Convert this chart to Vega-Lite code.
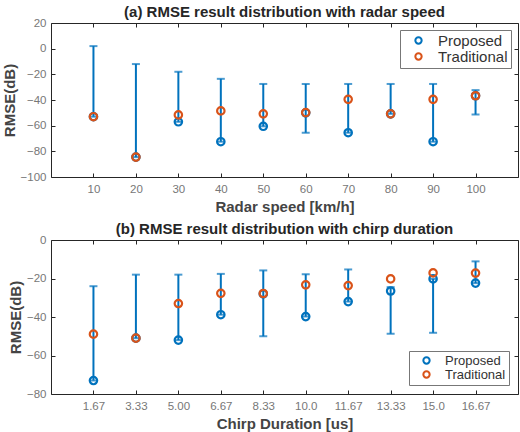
{
  "$schema": "https://vega.github.io/schema/vega-lite/v6.json",
  "padding": {"left": 1, "top": 4, "right": 1, "bottom": 0},
  "spacing": 6,
  "datasets": {
    "speed": [
      {"speed": 10, "series": "Proposed", "rmse": -53, "lo": -53, "hi": 2},
      {"speed": 20, "series": "Proposed", "rmse": -84.5, "lo": -84.5, "hi": -12},
      {"speed": 30, "series": "Proposed", "rmse": -57, "lo": -57, "hi": -18},
      {"speed": 40, "series": "Proposed", "rmse": -72.5, "lo": -72.5, "hi": -23.5},
      {"speed": 50, "series": "Proposed", "rmse": -60.5, "lo": -60.5, "hi": -27.5},
      {"speed": 60, "series": "Proposed", "rmse": -50, "lo": -65.5, "hi": -27.5},
      {"speed": 70, "series": "Proposed", "rmse": -65.5, "lo": -65.5, "hi": -27.5},
      {"speed": 80, "series": "Proposed", "rmse": -50.8, "lo": -50.8, "hi": -27.5},
      {"speed": 90, "series": "Proposed", "rmse": -72.5, "lo": -72.5, "hi": -27.5},
      {"speed": 100, "series": "Proposed", "rmse": -36.7, "lo": -51.3, "hi": -32.3},
      {"speed": 10, "series": "Traditional", "rmse": -53},
      {"speed": 20, "series": "Traditional", "rmse": -84.5},
      {"speed": 30, "series": "Traditional", "rmse": -51.6},
      {"speed": 40, "series": "Traditional", "rmse": -48.5},
      {"speed": 50, "series": "Traditional", "rmse": -50.8},
      {"speed": 60, "series": "Traditional", "rmse": -49.8},
      {"speed": 70, "series": "Traditional", "rmse": -39.5},
      {"speed": 80, "series": "Traditional", "rmse": -50.8},
      {"speed": 90, "series": "Traditional", "rmse": -39.5},
      {"speed": 100, "series": "Traditional", "rmse": -36.7}
    ],
    "chirp": [
      {"dur": "1.67", "series": "Proposed", "rmse": -73, "lo": -73, "hi": -24},
      {"dur": "3.33", "series": "Proposed", "rmse": -51, "lo": -51, "hi": -18},
      {"dur": "5.00", "series": "Proposed", "rmse": -52, "lo": -52, "hi": -18},
      {"dur": "6.67", "series": "Proposed", "rmse": -38.8, "lo": -38.8, "hi": -17.6},
      {"dur": "8.33", "series": "Proposed", "rmse": -28, "lo": -50, "hi": -15.8},
      {"dur": "10.0", "series": "Proposed", "rmse": -39.8, "lo": -39.8, "hi": -17.8},
      {"dur": "11.67", "series": "Proposed", "rmse": -32, "lo": -32, "hi": -15.3},
      {"dur": "13.33", "series": "Proposed", "rmse": -26.5, "lo": -48.7, "hi": -24.5},
      {"dur": "15.0", "series": "Proposed", "rmse": -20.2, "lo": -48.2, "hi": -20.2},
      {"dur": "16.67", "series": "Proposed", "rmse": -22.4, "lo": -22.4, "hi": -11.1},
      {"dur": "1.67", "series": "Traditional", "rmse": -48.9},
      {"dur": "3.33", "series": "Traditional", "rmse": -51},
      {"dur": "5.00", "series": "Traditional", "rmse": -33},
      {"dur": "6.67", "series": "Traditional", "rmse": -27.7},
      {"dur": "8.33", "series": "Traditional", "rmse": -27.8},
      {"dur": "10.0", "series": "Traditional", "rmse": -23.3},
      {"dur": "11.67", "series": "Traditional", "rmse": -23.7},
      {"dur": "13.33", "series": "Traditional", "rmse": -20.2},
      {"dur": "15.0", "series": "Traditional", "rmse": -17.1},
      {"dur": "16.67", "series": "Traditional", "rmse": -17.2}
    ]
  },
  "vconcat": [
    {
      "title": "(a) RMSE result distribution with radar speed",
      "width": 467,
      "height": 154,
      "data": {"name": "speed"},
      "layer": [
        {
          "transform": [{"filter": "datum.series === 'Proposed'"}],
          "mark": {"type": "rule", "color": "#0072BD", "strokeWidth": 2},
          "encoding": {
            "x": {"field": "speed", "type": "quantitative", "scale": {"domain": [0, 110], "nice": false}, "axis": {"values": [10, 20, 30, 40, 50, 60, 70, 80, 90, 100], "title": "Radar speed [km/h]"}},
            "y": {"field": "lo", "type": "quantitative", "scale": {"domain": [-100, 20], "nice": false}, "axis": {"values": [-100, -80, -60, -40, -20, 0, 20], "title": "RMSE(dB)"}},
            "y2": {"field": "hi"}
          }
        },
        {
          "transform": [{"filter": "datum.series === 'Proposed'"}],
          "mark": {"type": "tick", "orient": "horizontal", "color": "#0072BD", "thickness": 2, "size": 8},
          "encoding": {
            "x": {"field": "speed", "type": "quantitative", "axis": null},
            "y": {"field": "hi", "type": "quantitative", "axis": null}
          }
        },
        {
          "transform": [{"filter": "datum.series === 'Proposed'"}],
          "mark": {"type": "tick", "orient": "horizontal", "color": "#0072BD", "thickness": 2, "size": 8},
          "encoding": {
            "x": {"field": "speed", "type": "quantitative", "axis": null},
            "y": {"field": "lo", "type": "quantitative", "axis": null}
          }
        },
        {
          "mark": {"type": "point", "filled": false, "strokeWidth": 2.2, "size": 55, "opacity": 1},
          "encoding": {
            "x": {"field": "speed", "type": "quantitative", "axis": null},
            "y": {"field": "rmse", "type": "quantitative", "axis": null},
            "color": {"field": "series", "type": "nominal", "scale": {"domain": ["Proposed", "Traditional"], "range": ["#0072BD", "#D95319"]}, "legend": {"orient": "top-right", "offset": 7, "labelFontSize": 15, "encode": {"symbols": {"update": {"shape": {"signal": "datum.value === 'Proposed' ? 'M-0.5,0A0.5,0.5,0,1,1,0.5,0A0.5,0.5,0,1,1,-0.5,0M0,-1L0,1M-0.35,-1L0.35,-1M-0.35,1L0.35,1' : 'circle'"}}}}}}
          }
        },
        {
          "mark": {"type": "point", "opacity": 0},
          "encoding": {
            "x": {"field": "speed", "type": "quantitative", "axis": {"orient": "top", "labels": false, "labelPadding": 0, "title": null, "values": [10, 20, 30, 40, 50, 60, 70, 80, 90, 100]}},
            "y": {"field": "rmse", "type": "quantitative", "axis": {"orient": "right", "labels": false, "labelPadding": 0, "title": null, "values": [-100, -80, -60, -40, -20, 0, 20]}}
          }
        }
      ],
      "resolve": {"axis": {"x": "independent", "y": "independent"}}
    },
    {
      "title": "(b) RMSE result distribution with chirp duration",
      "width": 467,
      "height": 154,
      "data": {"name": "chirp"},
      "layer": [
        {
          "transform": [{"filter": "datum.series === 'Proposed'"}],
          "mark": {"type": "rule", "color": "#0072BD", "strokeWidth": 2},
          "encoding": {
            "x": {"field": "dur", "type": "ordinal", "sort": null, "scale": {"type": "point", "padding": 1}, "axis": {"title": "Chirp Duration [us]", "labelAngle": 0}},
            "y": {"field": "lo", "type": "quantitative", "scale": {"domain": [-80, 0], "nice": false}, "axis": {"values": [-80, -60, -40, -20, 0], "title": "RMSE(dB)"}},
            "y2": {"field": "hi"}
          }
        },
        {
          "transform": [{"filter": "datum.series === 'Proposed'"}],
          "mark": {"type": "tick", "orient": "horizontal", "color": "#0072BD", "thickness": 2, "size": 8},
          "encoding": {
            "x": {"field": "dur", "type": "ordinal", "sort": null, "axis": null},
            "y": {"field": "hi", "type": "quantitative", "axis": null}
          }
        },
        {
          "transform": [{"filter": "datum.series === 'Proposed'"}],
          "mark": {"type": "tick", "orient": "horizontal", "color": "#0072BD", "thickness": 2, "size": 8},
          "encoding": {
            "x": {"field": "dur", "type": "ordinal", "sort": null, "axis": null},
            "y": {"field": "lo", "type": "quantitative", "axis": null}
          }
        },
        {
          "mark": {"type": "point", "filled": false, "strokeWidth": 2.2, "size": 55, "opacity": 1},
          "encoding": {
            "x": {"field": "dur", "type": "ordinal", "sort": null, "axis": null},
            "y": {"field": "rmse", "type": "quantitative", "axis": null},
            "color": {"field": "series", "type": "nominal", "scale": {"domain": ["Proposed", "Traditional"], "range": ["#0072BD", "#D95319"]}, "legend": {"orient": "bottom-right", "offset": 9, "labelFontSize": 13, "encode": {"symbols": {"update": {"shape": {"signal": "datum.value === 'Proposed' ? 'M-0.5,0A0.5,0.5,0,1,1,0.5,0A0.5,0.5,0,1,1,-0.5,0M0,-1L0,1M-0.35,-1L0.35,-1M-0.35,1L0.35,1' : 'circle'"}}}}}}
          }
        },
        {
          "mark": {"type": "point", "opacity": 0},
          "encoding": {
            "x": {"field": "dur", "type": "ordinal", "sort": null, "axis": {"orient": "top", "labels": false, "labelPadding": 0, "title": null}},
            "y": {"field": "rmse", "type": "quantitative", "axis": {"orient": "right", "labels": false, "labelPadding": 0, "title": null, "values": [-80, -60, -40, -20, 0]}}
          }
        }
      ],
      "resolve": {"axis": {"x": "independent", "y": "independent"}}
    }
  ],
  "resolve": {"scale": {"color": "independent"}},
  "config": {
    "font": "Liberation Sans",
    "view": {"stroke": "#262626", "strokeWidth": 1},
    "title": {"fontSize": 15, "fontWeight": "bold", "color": "#262626", "offset": -3},
    "axis": {
      "grid": false,
      "domain": false,
      "tickColor": "#262626",
      "tickSize": -4,
      "labelColor": "#777777",
      "labelFontSize": 11.5,
      "titleFontSize": 15,
      "titleFontWeight": "bold",
      "titleColor": "#444444"
    },
    "axisX": {"labelPadding": 10, "titlePadding": 5},
    "axisY": {"labelPadding": 9, "titlePadding": 3},
    "legend": {
      "title": null,
      "fillColor": "white",
      "strokeColor": "#777777",
      "padding": 3,
      "labelColor": "#333333",
      "symbolStrokeWidth": 2,
      "symbolSize": 40,
      "symbolOffset": 8,
      "rowPadding": -1,
      "labelOffset": 12
    }
  }
}
